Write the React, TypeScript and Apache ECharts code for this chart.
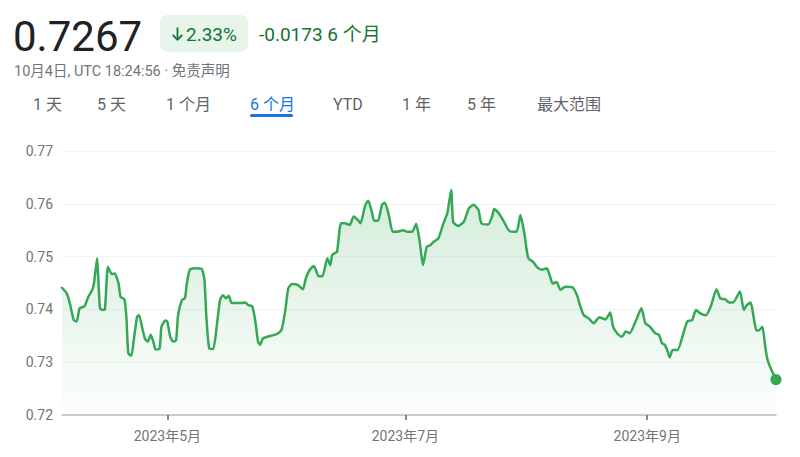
import React, { useEffect, useRef } from "react";
import * as echarts from "echarts";

// ---- data ----
const dates = [
  "2023-04-04 00:00", "2023-04-05 06:00", "2023-04-06 00:00", "2023-04-07 00:00", "2023-04-07 18:00",
  "2023-04-08 12:00", "2023-04-09 18:00", "2023-04-10 18:00", "2023-04-11 18:00", "2023-04-12 06:00",
  "2023-04-13 00:00", "2023-04-13 06:00", "2023-04-13 18:00", "2023-04-14 12:00", "2023-04-15 00:00",
  "2023-04-15 18:00", "2023-04-16 06:00", "2023-04-16 18:00", "2023-04-17 12:00", "2023-04-18 12:00",
  "2023-04-19 00:00", "2023-04-20 00:00", "2023-04-20 12:00", "2023-04-21 00:00", "2023-04-21 18:00",
  "2023-04-22 12:00", "2023-04-23 06:00", "2023-04-23 18:00", "2023-04-24 12:00", "2023-04-25 06:00",
  "2023-04-26 00:00", "2023-04-26 18:00", "2023-04-27 12:00", "2023-04-28 00:00", "2023-04-29 00:00",
  "2023-04-29 12:00", "2023-04-30 12:00", "2023-05-01 00:00", "2023-05-01 18:00", "2023-05-02 12:00",
  "2023-05-03 06:00", "2023-05-03 18:00", "2023-05-04 18:00", "2023-05-05 12:00", "2023-05-06 00:00",
  "2023-05-06 18:00", "2023-05-07 18:00", "2023-05-09 18:00", "2023-05-10 12:00", "2023-05-11 00:00",
  "2023-05-11 18:00", "2023-05-12 18:00", "2023-05-13 18:00", "2023-05-14 12:00", "2023-05-15 06:00",
  "2023-05-16 00:00", "2023-05-16 18:00", "2023-05-17 12:00", "2023-05-20 00:00", "2023-05-21 00:00",
  "2023-05-21 18:00", "2023-05-22 18:00", "2023-05-23 12:00", "2023-05-24 06:00", "2023-05-24 18:00",
  "2023-05-25 12:00", "2023-05-26 12:00", "2023-05-29 00:00", "2023-05-30 06:00", "2023-05-31 06:00",
  "2023-06-01 00:00", "2023-06-02 00:00", "2023-06-03 12:00", "2023-06-04 18:00", "2023-06-05 12:00",
  "2023-06-06 12:00", "2023-06-07 12:00", "2023-06-08 00:00", "2023-06-08 18:00", "2023-06-09 18:00",
  "2023-06-11 00:00", "2023-06-11 18:00", "2023-06-12 06:00", "2023-06-13 00:00", "2023-06-13 12:00",
  "2023-06-14 12:00", "2023-06-15 12:00", "2023-06-16 18:00", "2023-06-17 18:00", "2023-06-19 00:00",
  "2023-06-19 12:00", "2023-06-20 18:00", "2023-06-21 12:00", "2023-06-22 12:00", "2023-06-23 00:00",
  "2023-06-24 00:00", "2023-06-25 00:00", "2023-06-25 18:00", "2023-06-26 18:00", "2023-06-27 18:00",
  "2023-06-28 18:00", "2023-06-30 12:00", "2023-07-01 12:00", "2023-07-02 18:00", "2023-07-03 18:00",
  "2023-07-04 18:00", "2023-07-05 12:00", "2023-07-06 12:00", "2023-07-07 06:00", "2023-07-08 06:00",
  "2023-07-09 12:00", "2023-07-10 18:00", "2023-07-11 18:00", "2023-07-12 18:00", "2023-07-13 06:00",
  "2023-07-14 12:00", "2023-07-16 00:00", "2023-07-17 06:00", "2023-07-18 12:00", "2023-07-19 18:00",
  "2023-07-20 12:00", "2023-07-22 06:00", "2023-07-23 06:00", "2023-07-23 18:00", "2023-07-25 06:00",
  "2023-07-26 12:00", "2023-07-27 18:00", "2023-07-29 12:00", "2023-07-30 12:00", "2023-07-31 12:00",
  "2023-08-01 12:00", "2023-08-02 18:00", "2023-08-03 18:00", "2023-08-05 00:00", "2023-08-06 06:00",
  "2023-08-07 00:00", "2023-08-07 18:00", "2023-08-08 18:00", "2023-08-09 18:00", "2023-08-11 00:00",
  "2023-08-12 18:00", "2023-08-14 00:00", "2023-08-14 18:00", "2023-08-15 18:00", "2023-08-17 00:00",
  "2023-08-18 06:00", "2023-08-19 18:00", "2023-08-21 06:00", "2023-08-22 12:00", "2023-08-23 06:00",
  "2023-08-24 12:00", "2023-08-25 12:00", "2023-08-26 12:00", "2023-08-27 12:00", "2023-08-29 00:00",
  "2023-08-30 12:00", "2023-08-31 12:00", "2023-09-01 18:00", "2023-09-03 00:00", "2023-09-04 00:00",
  "2023-09-04 18:00", "2023-09-05 12:00", "2023-09-06 06:00", "2023-09-06 18:00", "2023-09-07 12:00",
  "2023-09-08 18:00", "2023-09-10 00:00", "2023-09-11 06:00", "2023-09-12 12:00", "2023-09-13 12:00",
  "2023-09-14 12:00", "2023-09-16 00:00", "2023-09-17 06:00", "2023-09-18 18:00", "2023-09-19 18:00",
  "2023-09-21 00:00", "2023-09-22 00:00", "2023-09-23 00:00", "2023-09-24 18:00", "2023-09-25 18:00",
  "2023-09-26 12:00", "2023-09-27 12:00", "2023-09-28 06:00", "2023-09-29 00:00", "2023-09-29 18:00",
  "2023-09-30 12:00", "2023-10-01 06:00", "2023-10-01 18:00", "2023-10-02 12:00", "2023-10-04 00:00",
];

const values = [
  0.7441, 0.7430, 0.7412, 0.7380, 0.7377,
  0.7402, 0.7406, 0.7424, 0.7437, 0.7452,
  0.7497, 0.7468, 0.7402, 0.7399, 0.7400,
  0.7481, 0.7473, 0.7467, 0.7468, 0.7449,
  0.7424, 0.7419, 0.7386, 0.7317, 0.7312,
  0.7348, 0.7386, 0.7389, 0.7367, 0.7345,
  0.7339, 0.7352, 0.7336, 0.7324, 0.7326,
  0.7367, 0.7379, 0.7377, 0.7348, 0.7339,
  0.7342, 0.7389, 0.7418, 0.7421, 0.7449,
  0.7475, 0.7478, 0.7477, 0.7456, 0.7386,
  0.7326, 0.7325, 0.7374, 0.7418, 0.7427,
  0.7421, 0.7426, 0.7412, 0.7412, 0.7413,
  0.7408, 0.7406, 0.7380, 0.7339, 0.7333,
  0.7345, 0.7348, 0.7353, 0.7361, 0.7399,
  0.7440, 0.7448, 0.7446, 0.7438, 0.7459,
  0.7475, 0.7482, 0.7476, 0.7463, 0.7463,
  0.7497, 0.7484, 0.7503, 0.7507, 0.7509,
  0.7563, 0.7563, 0.7560, 0.7576, 0.7568,
  0.7563, 0.7598, 0.7606, 0.7582, 0.7568,
  0.7568, 0.7598, 0.7602, 0.7579, 0.7547,
  0.7547, 0.7550, 0.7547, 0.7547, 0.7562,
  0.7525, 0.7484, 0.7519, 0.7521, 0.7528,
  0.7535, 0.7563, 0.7582, 0.7626, 0.7566,
  0.7558, 0.7566, 0.7591, 0.7598, 0.7588,
  0.7563, 0.7561, 0.7576, 0.7590, 0.7579,
  0.7563, 0.7548, 0.7547, 0.7579, 0.7544,
  0.7497, 0.7490, 0.7480, 0.7475, 0.7478,
  0.7465, 0.7449, 0.7452, 0.7437, 0.7443,
  0.7442, 0.7427, 0.7408, 0.7389, 0.7383,
  0.7374, 0.7385, 0.7381, 0.7394, 0.7367,
  0.7353, 0.7348, 0.7358, 0.7355, 0.7377,
  0.7402, 0.7374, 0.7367, 0.7355, 0.7352,
  0.7336, 0.7333, 0.7320, 0.7309, 0.7323,
  0.7323, 0.7348, 0.7377, 0.7380, 0.7399,
  0.7393, 0.7389, 0.7405, 0.7438, 0.7421,
  0.7419, 0.7413, 0.7413, 0.7434, 0.7399,
  0.7408, 0.7413, 0.7386, 0.7360, 0.7361,
  0.7367, 0.7329, 0.7307, 0.7291, 0.7267,
];

const rangeStart = "2023-04-04 00:00";
const rangeEnd = "2023-10-04 00:00";
const xTickDates = ["2023-05-01 00:00", "2023-07-01 00:00", "2023-09-01 00:00"];
const yTicks = [0.72, 0.73, 0.74, 0.75, 0.76, 0.77];

const priceText = "0.7267";
const changePctText = "2.33%";
const changeAbsText = "-0.0173 6 个月";
const timestampText = "10月4日, UTC 18:24:56 · 免责声明";
const tabs = ["1 天", "5 天", "1 个月", "6 个月", "YTD", "1 年", "5 年", "最大范围"];
const activeTab = "6 个月";

// ---- helpers / layout ----
const FONT = 'Roboto, "Noto Sans CJK SC", sans-serif';
const tabLeft = [33, 97, 166, 250, 333, 402, 467, 537];

function parseLocal(s: string): number {
  const [d, t] = s.split(" ");
  const [y, m, dd] = d.split("-").map(Number);
  const [hh, mm] = (t || "00:00").split(":").map(Number);
  return new Date(y, m - 1, dd, hh, mm).getTime();
}

export default function App() {
  const ref = useRef<HTMLDivElement>(null);

  useEffect(() => {
    if (!ref.current) return;
    const chart = echarts.init(ref.current, undefined, { renderer: "svg" });

    const lineData = dates.map((d, i) => [parseLocal(d), values[i]]);
    const last = lineData[lineData.length - 1];
    const tickTs = xTickDates.map(parseLocal);

    const green = "#34a853";
    const textGreen = "#137333";

    const graphic: any[] = [
      {
        type: "text",
        x: 13,
        y: 36,
        style: {
          text: priceText,
          fontSize: 42,
          fontFamily: FONT,
          fontWeight: 400,
          fill: "#202124",
          verticalAlign: "middle",
          align: "left",
        },
      },
      {
        type: "rect",
        shape: { x: 160, y: 15, width: 88, height: 37, r: 8 },
        style: { fill: "#e6f4ea" },
      },
      {
        type: "line",
        shape: { x1: 177.5, y1: 27.5, x2: 177.5, y2: 40 },
        style: { stroke: textGreen, lineWidth: 1.8 },
      },
      {
        type: "polyline",
        shape: { points: [[172.8, 35], [177.5, 39.8], [182.2, 35]] },
        style: { stroke: textGreen, lineWidth: 1.8, fill: null },
      },
      {
        type: "text",
        x: 186,
        y: 34,
        style: {
          text: changePctText,
          fontSize: 19,
          fontFamily: FONT,
          fill: textGreen,
          verticalAlign: "middle",
          align: "left",
        },
      },
      {
        type: "text",
        x: 259,
        y: 34,
        style: {
          text: changeAbsText,
          fontSize: 19,
          fontFamily: FONT,
          fill: textGreen,
          verticalAlign: "middle",
          align: "left",
        },
      },
      {
        type: "text",
        x: 14,
        y: 71,
        style: {
          text: timestampText,
          fontSize: 14.5,
          fontFamily: FONT,
          fill: "#70757a",
          verticalAlign: "middle",
          align: "left",
        },
      },
      ...tabs.map((t, i) => ({
        type: "text",
        x: tabLeft[i],
        y: 104,
        style: {
          text: t,
          fontSize: 16,
          fontFamily: FONT,
          fill: t === activeTab ? "#1a73e8" : "#5f6368",
          verticalAlign: "middle",
          align: "left",
        },
      })),
      {
        type: "rect",
        shape: { x: 250, y: 114, width: 43, height: 3, r: 1.5 },
        style: { fill: "#1a73e8" },
      },
    ];

    const option: any = {
      animation: false,
      backgroundColor: "#ffffff",
      graphic,
      grid: { left: 62, right: 24, top: 151, bottom: 42, outerBoundsMode: "none" },
      xAxis: {
        type: "value",
        min: parseLocal(rangeStart),
        max: parseLocal(rangeEnd),
        axisLine: { show: true, lineStyle: { color: "#bdbdbd", width: 1.5 } },
        axisTick: {
          show: true,
          customValues: tickTs,
          length: 5,
          lineStyle: { color: "#5f6368", width: 1.5 },
        },
        axisLabel: {
          customValues: tickTs,
          hideOverlap: false,
          formatter: (v: number) => {
            const d = new Date(v);
            return `${d.getFullYear()}年${d.getMonth() + 1}月`;
          },
          color: "#70757a",
          fontSize: 14,
          fontFamily: FONT,
          margin: 14,
        },
        splitLine: { show: false },
      },
      yAxis: {
        type: "value",
        min: yTicks[0],
        max: yTicks[yTicks.length - 1],
        interval: 0.01,
        axisLine: { show: false },
        axisTick: { show: false },
        axisLabel: {
          formatter: (v: number) => v.toFixed(2),
          color: "#70757a",
          fontSize: 14,
          fontFamily: FONT,
          margin: 9,
        },
        splitLine: { show: true, lineStyle: { color: "#f1f3f4", width: 1 } },
      },
      series: [
        {
          type: "line",
          data: lineData,
          showSymbol: false,
          smooth: 0.2,
          silent: true,
          lineStyle: { color: green, width: 2.5, cap: "round", join: "round" },
          areaStyle: {
            color: new echarts.graphic.LinearGradient(0, 0, 0, 1, [
              { offset: 0, color: "rgba(52,168,83,0.3)" },
              { offset: 1, color: "rgba(52,168,83,0.02)" },
            ]),
          },
          z: 2,
        },
        {
          type: "scatter",
          data: [last],
          symbol: "circle",
          symbolSize: 11,
          silent: true,
          itemStyle: { color: green, opacity: 1 },
          z: 3,
        },
      ],
    };

    chart.setOption(option);
    return () => chart.dispose();
  }, []);

  return (
    <div
      ref={ref}
      style={{ position: "absolute", left: 0, top: 0, width: 800, height: 457, background: "#fff" }}
    />
  );
}
